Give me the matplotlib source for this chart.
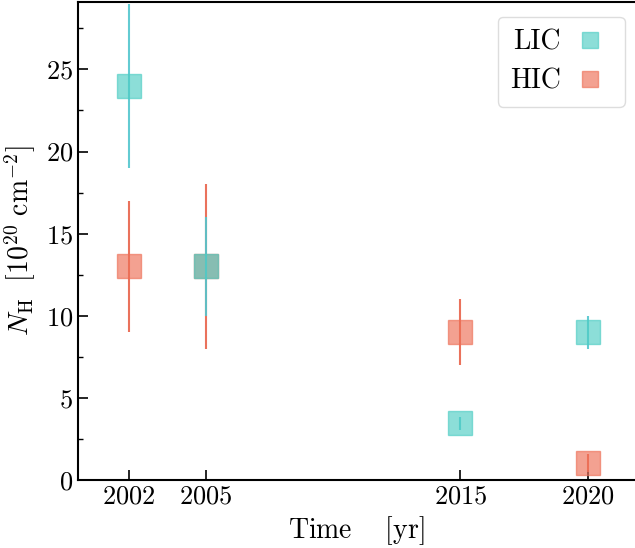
import matplotlib
matplotlib.use("Agg")
import matplotlib.pyplot as plt
from matplotlib.ticker import MultipleLocator

plt.rcParams["font.family"] = "serif"
plt.rcParams["font.serif"] = ["cmr10"]
plt.rcParams["mathtext.fontset"] = "cm"
plt.rcParams["axes.formatter.use_mathtext"] = True
plt.rcParams["axes.unicode_minus"] = False

# Column densities per epoch
years = [2002, 2005, 2015, 2020]
lic_nh = [24.0, 13.0, 3.45, 9.0]
lic_err = [5.0, 3.0, 0.4, 1.0]
hic_nh = [13.0, 13.0, 9.0, 1.05]
hic_err = [4.0, 5.0, 2.0, 0.55]
xticks = [2002, 2005, 2015, 2020]

lic_color = "#4ECDC4"
lic_bar = "#52C6CE"
hic_color = "#EE6F57"
hic_bar = "#E8634A"

fig = plt.figure(figsize=(6.35, 5.48), dpi=100)
ax = fig.add_axes([0.123, 0.124, 0.877, 0.8723])

# HIC first so the LIC points sit on top where they overlap
ax.errorbar(years, hic_nh, yerr=hic_err, fmt="none", ecolor=hic_bar,
            elinewidth=1.5, alpha=0.9, zorder=2)
hic_pts, = ax.plot(years, hic_nh, "s", color=hic_color, markersize=17,
                   alpha=0.65, markeredgewidth=1, label="HIC", zorder=3)
ax.errorbar(years, lic_nh, yerr=lic_err, fmt="none", ecolor=lic_bar,
            elinewidth=1.5, alpha=0.9, zorder=4)
lic_pts, = ax.plot(years, lic_nh, "s", color=lic_color, markersize=17,
                   alpha=0.65, markeredgewidth=1, label="LIC", zorder=5)

ax.set_xlim(2000, 2021.85)
ax.set_ylim(0, 29.1)
ax.set_xticks(xticks)
ax.yaxis.set_major_locator(MultipleLocator(5))
ax.yaxis.set_minor_locator(MultipleLocator(2.5))

ax.tick_params(axis="both", which="major", direction="in", length=7.2,
               width=1.2, labelsize=19)
ax.tick_params(axis="both", which="minor", direction="in", length=3.6,
               width=1.0)
ax.spines["right"].set_visible(False)
for side in ["left", "bottom", "top"]:
    ax.spines[side].set_linewidth(1.5)

ax.set_xlabel(r"Time $\quad$[yr]", fontsize=20, labelpad=4)
ax.set_ylabel(r"$N_{\rm H}\ \ [10^{20}\ {\rm cm}^{-2}]$", fontsize=20,
              labelpad=6)

leg = ax.legend(handles=[lic_pts, hic_pts], loc="upper right",
                markerfirst=False, fontsize=20, markerscale=0.7,
                handlelength=1.6, handletextpad=0.25, borderpad=0.45,
                labelspacing=0.45, borderaxespad=0.0, framealpha=1.0,
                bbox_to_anchor=(0.982, 0.969))
leg.get_frame().set_edgecolor("#dddddd")

fig.savefig("out.png", dpi=100)
